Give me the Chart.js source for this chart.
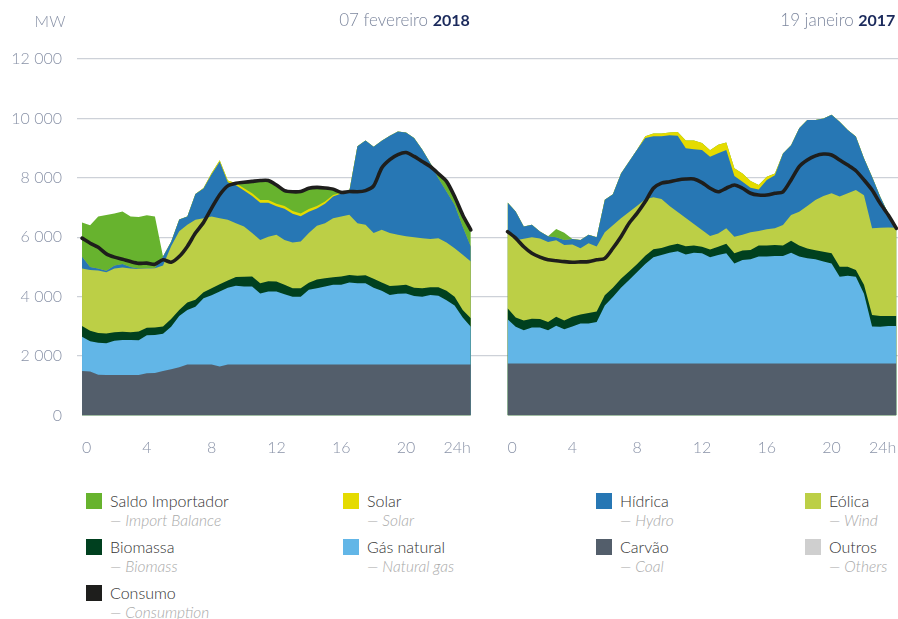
<!DOCTYPE html>
<html lang="pt">
<head>
<meta charset="utf-8">
<title>Produção e consumo</title>
<script src="https://cdn.jsdelivr.net/npm/chart.js@4.4.1/dist/chart.umd.min.js"></script>
<style>
  html, body { margin: 0; padding: 0; background: #fff; }
  body { width: 898px; height: 619px; position: relative; overflow: hidden; font-family: Lato, 'Noto Sans', sans-serif; }
  #chart-wrap { position: absolute; left: 0; top: 0; width: 898px; height: 470px; }
  .legend-item { position: absolute; }
  .legend-item .sw { position: absolute; left: 0; top: 0; width: 16px; height: 16px; }
  .legend-item .pt { position: absolute; left: 24px; top: -2px; font-size: 16px; color: #333; white-space: nowrap; font-weight: 300; }
  .legend-item .en { position: absolute; left: 24px; top: 18px; font-size: 15.5px; color: #a9a9a9; font-style: italic; white-space: nowrap; font-weight: 300; }
</style>
</head>
<body>
<div id="chart-wrap"><canvas id="chart"></canvas></div>
<div id="legend"></div>

<script>
// half-hour steps, 0h..24h
const hours = [0, 0.5, 1, 1.5, 2, 2.5, 3, 3.5, 4, 4.5, 5, 5.5, 6, 6.5, 7, 7.5, 8, 8.5, 9, 9.5,
  10, 10.5, 11, 11.5, 12, 12.5, 13, 13.5, 14, 14.5, 15, 15.5, 16, 16.5, 17, 17.5, 18, 18.5, 19, 19.5,
  20, 20.5, 21, 21.5, 22, 22.5, 23, 23.5, 24];
const hourTicks = [0, 4, 8, 12, 16, 20, 24];
const yTicks = [0, 2000, 4000, 6000, 8000, 10000, 12000];

const panelTitles = [['07 fevereiro ', '2018'], ['19 janeiro ', '2017']];

// 07 fevereiro 2018 (MW)
const coal2018 = [1500, 1480, 1370, 1360, 1360, 1360, 1360, 1360, 1420, 1430,
  1500, 1560, 1620, 1720, 1720, 1720, 1720, 1650, 1720, 1720,
  1720, 1720, 1720, 1720, 1720, 1720, 1720, 1720, 1720, 1720,
  1720, 1720, 1720, 1720, 1720, 1720, 1720, 1720, 1720, 1720,
  1720, 1720, 1720, 1720, 1720, 1720, 1720, 1720, 1720];
const gas2018 = [1150, 1020, 1080, 1070, 1160, 1180, 1180, 1170, 1280, 1280,
  1250, 1430, 1730, 1830, 1940, 2230, 2330, 2520, 2580, 2650,
  2620, 2620, 2390, 2450, 2450, 2360, 2280, 2280, 2510, 2560,
  2620, 2680, 2680, 2760, 2730, 2730, 2580, 2480, 2340, 2380,
  2390, 2300, 2280, 2340, 2310, 2160, 1980, 1580, 1270];
const bio2018 = [360, 350, 330, 330, 280, 280, 260, 300, 250, 250,
  250, 260, 200, 250, 240, 200, 230, 250, 240, 290,
  330, 340, 340, 350, 340, 320, 280, 280, 240, 300,
  280, 250, 280, 250, 250, 270, 300, 280, 300, 280,
  290, 280, 280, 260, 290, 320, 300, 250, 280];
const wind2018 = [1940, 2050, 2100, 2060, 2150, 2160, 2150, 2100, 2000, 2000,
  2050, 2450, 2650, 2620, 2690, 2490, 2420, 2220, 2050, 1810,
  1690, 1460, 1460, 1500, 1570, 1510, 1540, 1580, 1670, 1810,
  1850, 1990, 2020, 2030, 1770, 1700, 1540, 1770, 1780, 1700,
  1630, 1700, 1690, 1620, 1650, 1620, 1630, 1860, 1910];
const hydro2018 = [400, 100, 70, 50, 100, 120, 50, 20, 10, 10,
  300, 150, 400, 280, 870, 1000, 1420, 1900, 1260, 1280,
  1210, 1250, 1250, 1140, 960, 1050, 970, 850, 720, 580,
  660, 730, 770, 790, 2590, 2840, 2910, 3000, 3280, 3480,
  3500, 3340, 2980, 2560, 2020, 1720, 1460, 950, 510];
const solar2018 = [0, 0, 0, 0, 0, 0, 0, 0, 0, 0,
  0, 0, 0, 0, 0, 20, 40, 50, 60, 70,
  80, 90, 90, 90, 90, 90, 90, 90, 90, 80,
  70, 50, 30, 10, 0, 0, 0, 0, 0, 0,
  0, 0, 0, 0, 0, 0, 0, 0, 0];
const import2018 = [1150, 1400, 1750, 1880, 1750, 1770, 1700, 1730, 1780, 1730,
  0, 0, 0, 0, 0, 0, 0, 0, 0, 0,
  180, 370, 630, 630, 610, 500, 620, 710, 670, 600,
  440, 170, 0, 0, 0, 0, 0, 0, 0, 0,
  0, 0, 0, 0, 110, 280, 240, 360, 540];
const demand2018 = [5970, 5800, 5660, 5440, 5330, 5260, 5180, 5120, 5130, 5090,
  5240, 5160, 5350, 5690, 6140, 6500, 6980, 7430, 7730, 7820,
  7850, 7880, 7910, 7910, 7760, 7570, 7530, 7540, 7650, 7680,
  7660, 7620, 7510, 7540, 7530, 7570, 7730, 8330, 8610, 8780,
  8850, 8720, 8550, 8380, 8140, 7880, 7370, 6750, 6250];

// 19 janeiro 2017 (MW)
const coal2017 = [1750, 1750, 1750, 1750, 1750, 1750, 1750, 1750, 1750, 1750,
  1750, 1750, 1750, 1750, 1750, 1750, 1750, 1750, 1750, 1750,
  1750, 1750, 1750, 1750, 1750, 1750, 1750, 1750, 1750, 1750,
  1750, 1750, 1750, 1750, 1750, 1750, 1750, 1750, 1750, 1750,
  1750, 1750, 1750, 1750, 1750, 1750, 1750, 1750, 1750];
const gas2017 = [1490, 1240, 1120, 1210, 1210, 1120, 1270, 1150, 1250, 1350,
  1350, 1400, 1950, 2240, 2550, 2810, 3080, 3350, 3580, 3650,
  3730, 3780, 3670, 3730, 3710, 3575, 3650, 3710, 3370, 3485,
  3510, 3600, 3600, 3620, 3620, 3730, 3600, 3540, 3510, 3430,
  3370, 2920, 2950, 2920, 2350, 1250, 1240, 1260, 1260];
const bio2017 = [370, 310, 330, 300, 290, 280, 300, 300, 320, 300,
  350, 350, 350, 310, 300, 290, 270, 280, 270, 240,
  240, 250, 280, 240, 220, 265, 280, 320, 340, 315,
  315, 370, 370, 370, 350, 400, 370, 330, 300, 330,
  340, 340, 310, 230, 300, 380, 360, 340, 340];
const wind2017 = [2640, 2600, 2750, 2740, 2710, 2690, 2580, 2540, 2440, 2230,
  2350, 2190, 2120, 2100, 2040, 2000, 1960, 1900, 1750, 1650,
  1330, 1070, 950, 730, 560, 450, 450, 520, 560, 530,
  590, 490, 550, 560, 690, 870, 1140, 1430, 1690, 1880,
  2020, 2360, 2470, 2690, 3010, 2920, 2970, 2980, 2970];
const hydro2017 = [920, 970, 410, 420, 230, 190, 100, 170, 180, 280,
  280, 310, 1090, 1050, 1510, 1700, 1890, 2060, 2050, 2110,
  2380, 2570, 2350, 2510, 2700, 2670, 2700, 2640, 2040, 1790,
  1500, 1400, 1660, 1790, 2410, 2350, 2810, 2900, 2700, 2610,
  2640, 2520, 2130, 1800, 1250, 1740, 1050, 470, 10];
const solar2017 = [0, 0, 0, 0, 0, 0, 0, 0, 0, 0,
  0, 0, 0, 0, 0, 0, 0, 60, 90, 90,
  100, 120, 260, 300, 230, 220, 280, 250, 260, 280,
  230, 150, 110, 60, 0, 0, 0, 0, 0, 0,
  0, 0, 0, 0, 0, 0, 0, 0, 0];
const import2017 = [0, 0, 0, 0, 0, 0, 280, 240, 0, 0,
  0, 0, 0, 0, 0, 0, 0, 0, 0, 0,
  0, 0, 0, 0, 0, 0, 0, 0, 0, 0,
  0, 0, 0, 0, 0, 0, 0, 0, 0, 0,
  0, 0, 0, 0, 0, 0, 0, 0, 0];
const demand2017 = [6190, 5970, 5680, 5460, 5330, 5240, 5210, 5180, 5160, 5170,
  5180, 5240, 5290, 5630, 6020, 6470, 6810, 7200, 7650, 7820,
  7870, 7930, 7960, 7960, 7840, 7650, 7530, 7650, 7760, 7650,
  7480, 7420, 7420, 7480, 7530, 7930, 8380, 8600, 8740, 8800,
  8770, 8600, 8430, 8240, 7930, 7590, 7140, 6750, 6300];

// stack order, bottom to top
const sourceNames = ['Carvão', 'Gás natural', 'Biomassa', 'Eólica', 'Hídrica', 'Solar', 'Saldo Importador'];
const sourceColors = ['#535e6b', '#62b6e7', '#00401f', '#bccf46', '#2777b4', '#e5db00', '#67b32e'];
const panels = [
  { key: 'a', shift: 0, series: [coal2018, gas2018, bio2018, wind2018, hydro2018, solar2018, import2018], demand: demand2018 },
  { key: 'b', shift: 26.27, series: [coal2017, gas2017, bio2017, wind2017, hydro2017, solar2017, import2017], demand: demand2017 }
];

const legendPt = ['Saldo Importador', 'Solar', 'Hídrica', 'Eólica', 'Biomassa', 'Gás natural', 'Carvão', 'Outros', 'Consumo'];
const legendEn = ['Import Balance', 'Solar', 'Hydro', 'Wind', 'Biomass', 'Natural gas', 'Coal', 'Others', 'Consumption'];
const legendColors = ['#67b32e', '#e5db00', '#2777b4', '#bccf46', '#00401f', '#62b6e7', '#535e6b', '#cfcfcf', '#1e1e1c'];

const toPoints = (values, shift) => hours.map((h, i) => ({ x: h + shift, y: values[i] }));
const fmt = v => String(v).replace(/\B(?=(\d{3})+(?!\d))/g, ' ');

const datasets = [];
panels.forEach(p => {
  p.series.forEach((vals, i) => {
    datasets.push({
      label: sourceNames[i],
      data: toPoints(vals, p.shift),
      stack: p.key,
      fill: 'origin',
      backgroundColor: sourceColors[i],
      borderColor: 'rgba(0,0,0,0)',
      borderWidth: 0,
      pointRadius: 0,
      tension: 0
    });
  });
});
panels.forEach(p => {
  datasets.push({
    label: 'Consumo',
    data: toPoints(p.demand, p.shift),
    stack: 'c' + p.key,
    order: -1,
    fill: false,
    borderColor: '#1e1e1c',
    borderWidth: 3.6,
    pointRadius: 0,
    tension: 0.25,
    borderJoinStyle: 'round',
    borderCapStyle: 'round'
  });
});

const labelFont = '300 16px Lato, "Noto Sans", sans-serif';

const panelText = {
  id: 'panelText',
  afterDraw(chart) {
    const { ctx } = chart;
    const xs = chart.scales.x;
    ctx.save();
    ctx.textBaseline = 'middle';

    // unit
    ctx.font = labelFont;
    ctx.fillStyle = '#8a93a8';
    ctx.textAlign = 'center';
    ctx.fillText('MW', 50, 22);

    panels.forEach((p, k) => {
      // hour labels
      ctx.font = labelFont;
      ctx.fillStyle = '#8a93a8';
      hourTicks.forEach((t, j) => {
        ctx.textAlign = j === 0 ? 'left' : (j === hourTicks.length - 1 ? 'right' : 'center');
        ctx.fillText(t === 24 ? '24h' : String(t), xs.getPixelForValue(t + p.shift), 448);
      });

      // title, right aligned to panel end
      const right = xs.getPixelForValue(24 + p.shift) - 1;
      const [txt, year] = panelTitles[k];
      ctx.font = 'bold 16px Lato, "Noto Sans", sans-serif';
      const yw = ctx.measureText(year).width;
      ctx.textAlign = 'right';
      ctx.fillStyle = '#1b2a5c';
      ctx.fillText(year, right, 21);
      ctx.font = '300 17px Lato, "Noto Sans", sans-serif';
      ctx.fillStyle = '#7d879e';
      ctx.fillText(txt, right - yw, 21);
    });
    ctx.restore();
  }
};

new Chart(document.getElementById('chart'), {
  type: 'line',
  data: { datasets },
  options: {
    responsive: true,
    maintainAspectRatio: false,
    animation: false,
    events: [],
    layout: { padding: { top: 59, bottom: 54.5, left: 0, right: 0 } },
    plugins: {
      legend: { display: false },
      tooltip: { enabled: false },
      filler: { propagate: false }
    },
    scales: {
      x: { type: 'linear', min: -0.31, max: 50.37, display: false },
      y: {
        stacked: true,
        min: 0,
        max: 12000,
        afterBuildTicks: s => { s.ticks = yTicks.map(v => ({ value: v })); },
        afterFit: s => { s.width = 77; },
        border: { display: false },
        grid: {
          drawTicks: false,
          lineWidth: 1.3,
          color: c => (c.tick && c.tick.value === 0) ? 'rgba(0,0,0,0)' : '#cdd1d8'
        },
        ticks: {
          padding: 15,
          color: '#8a93a8',
          font: { family: 'Lato', size: 16, weight: '300' },
          callback: v => fmt(v)
        }
      }
    }
  },
  plugins: [panelText]
});

// legend: 4 columns, Portuguese label + English subtitle
const legendCols = [86, 343, 596, 805];
const legendRows = [493, 539, 585];
const legendEl = document.getElementById('legend');
legendPt.forEach((name, i) => {
  const item = document.createElement('div');
  item.className = 'legend-item';
  item.style.left = legendCols[i % 4] + 'px';
  item.style.top = legendRows[Math.floor(i / 4)] + 'px';
  item.innerHTML = `
    <div class="sw" style="background:${legendColors[i]}"></div>
    <div class="pt">${name}</div>
    <div class="en">— ${legendEn[i]}</div>
  `;
  legendEl.appendChild(item);
});
</script>
</body>
</html>
